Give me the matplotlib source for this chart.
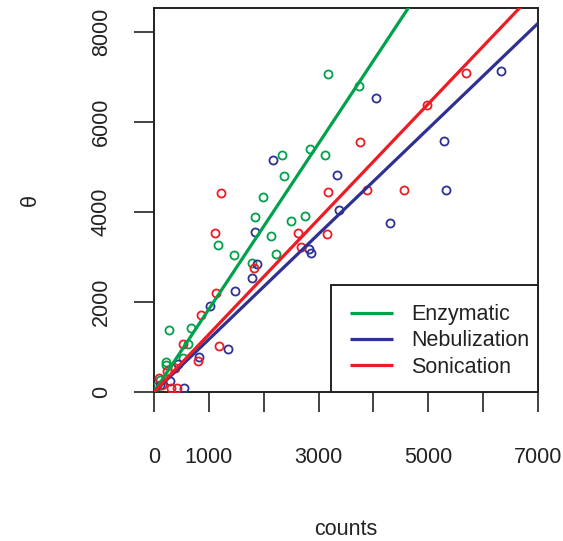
import numpy as np
import matplotlib
matplotlib.use('Agg')
from matplotlib import pyplot as plt
from matplotlib.patches import Rectangle

plt.rcParams['font.family'] = ['Liberation Sans', 'DejaVu Sans']

## points: counts (x) and theta (y)
enz_x = [3170, 3740, 2330, 2840, 3120, 2370, 1990, 1840, 2500, 2750, 1170, 1460, 2130, 2220, 1790,
         270, 680, 620, 530, 220, 220, 110, 60]
enz_y = [7060, 6800, 5270, 5400, 5270, 4800, 4330, 3890, 3800, 3910, 3270, 3040, 3470, 3070, 2870,
         1380, 1420, 1070, 760, 670, 600, 270, 130]

neb_x = [4050, 6330, 5290, 5320, 4300, 3340, 3370, 2830, 2860, 2170, 1840, 1880, 1790, 1480, 1020,
         1350, 820, 440, 550, 290, 110]
neb_y = [6530, 7130, 5580, 4490, 3760, 4820, 4040, 3180, 3090, 5160, 3560, 2840, 2530, 2240, 1910,
         960, 780, 620, 90, 240, 160]

son_x = [5690, 4980, 3760, 3170, 3880, 4560, 2630, 2680, 3150, 1220, 1110, 1820, 1130, 860, 530,
         1190, 800, 380, 240, 90, 310, 420, 150]
son_y = [7090, 6380, 5560, 4440, 4490, 4490, 3530, 3220, 3510, 4420, 3530, 2760, 2200, 1710, 1070,
         1020, 690, 530, 470, 310, 90, 90, 160]

groups = ['Enzymatic', 'Nebulization', 'Sonication']
colours = ['#00a14b', '#2e3192', '#ed1c24']
## fitted lines (slope, intercept)
slopes = [1.84, 1.17, 1.28]
intercepts = [0, 0, 0]

x_ticks = [0, 1000, 2000, 3000, 4000, 5000, 6000, 7000]
x_labels = ['0', '1000', '', '3000', '', '5000', '', '7000']
y_ticks = [0, 2000, 4000, 6000, 8000]

fs = 15.5
ink = '#222222'

fig = plt.figure(figsize=(5.63, 5.41), dpi=100, facecolor='w')
ax = fig.add_axes([154/563, 1-392/541, 384/563, 384/541])

data = [(enz_x, enz_y), (neb_x, neb_y), (son_x, son_y)]
for (xs, ys), c in zip(data, colours):
    ax.plot(xs, ys, linestyle='none', marker='o', markersize=5.8, markerfacecolor='none',
            markeredgecolor=c, markeredgewidth=1.3, zorder=3)

xx = np.array([0, 7000])
for name, c, m, b in zip(groups, colours, slopes, intercepts):
    ax.plot(xx, m*xx + b, color=c, lw=2.3, label=name, zorder=4, solid_capstyle='butt')

ax.set_xlim(0, 7000)
ax.set_ylim(0, 8530)
ax.set_xticks(x_ticks)
ax.set_xticklabels(x_labels)
ax.set_yticks(y_ticks)
ax.set_yticklabels([str(v) for v in y_ticks], rotation=90, va='center')

ax.tick_params(axis='both', direction='out', length=14.5, width=1.2, labelsize=fs, colors=ink)
ax.tick_params(axis='x', pad=25)
ax.tick_params(axis='y', pad=16)
[ax.spines[loc].set_linewidth(1.4) for loc in ['top', 'right', 'left', 'bottom']]
[ax.spines[loc].set_color(ink) for loc in ['top', 'right', 'left', 'bottom']]

ax.set_xlabel('counts', fontsize=fs, labelpad=37, color=ink)
ax.set_ylabel('θ', fontsize=fs, labelpad=36, color=ink)

## legend box like R's: wider padding on the left than on the right
ax.add_patch(Rectangle((177/384, 0), 207/384, 107/384, transform=ax.transAxes,
                       facecolor='white', edgecolor=ink, lw=1.4, zorder=4.5, clip_on=False))
leg = ax.legend(loc='center left', bbox_to_anchor=(196/384, 51/384), borderaxespad=0,
                frameon=False, fontsize=fs, handlelength=2.0, handletextpad=0.85,
                borderpad=0, labelspacing=0.25)
leg.set_zorder(5)
for t in leg.get_texts():
    t.set_color(ink)

fig.savefig('out.png', dpi=100)
